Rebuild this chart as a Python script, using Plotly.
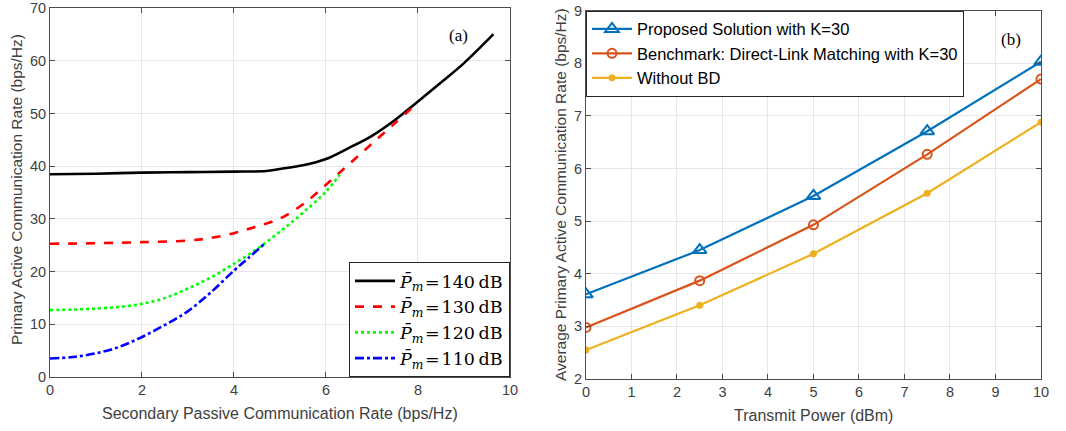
import plotly.graph_objects as go

# ---------- Panel (a) data ----------
black_x = [0, 1, 2, 3, 4, 4.7, 5.0, 5.5, 6.0, 6.5, 7.0, 7.5, 8.0, 8.5, 9.0, 9.64]
black_y = [38.5, 38.6, 38.8, 38.9, 39.0, 39.1, 39.5, 40.2, 41.4, 43.5, 45.8, 48.8, 52.3, 55.9, 59.6, 65.1]
red_x = [0, 1, 2, 3, 3.5, 4, 4.5, 5, 5.5, 6, 6.5, 7, 7.5, 8.0]
red_y = [25.3, 25.4, 25.6, 25.9, 26.4, 27.3, 28.6, 30.1, 32.8, 36.5, 40.4, 44.3, 48.2, 52.1]
green_x = [0, 0.5, 1, 1.5, 2, 2.5, 3, 3.5, 4, 4.5, 5, 5.5, 6, 6.3]
green_y = [12.7, 12.8, 13.0, 13.3, 13.9, 15.0, 16.8, 18.9, 21.5, 24.3, 27.6, 31.2, 35.2, 38.4]
blue_x = [0, 0.5, 1, 1.5, 2, 2.5, 3, 3.5, 4, 4.3, 4.65]
blue_y = [3.5, 3.8, 4.5, 5.7, 7.6, 9.9, 12.5, 16.1, 20.2, 22.5, 25.2]
labels_a = ["140", "130", "120", "110"]

# ---------- Panel (b) data ----------
power = [0, 2.5, 5, 7.5, 10]
proposed = [3.61, 4.45, 5.48, 6.71, 8.03]
benchmark = [2.98, 3.87, 4.93, 6.27, 7.70]
without_bd = [2.55, 3.40, 4.38, 5.53, 6.88]

fig = go.Figure()

def lab(v):
    return "<i>P&#772;</i><sub><i>m</i></sub>&#8202;=&#8202;" + v + "&#8201;dB"

series_a = [
    (black_x, black_y, "#000000", "solid"),
    (red_x, red_y, "#FF0000", "dash"),
    (green_x, green_y, "#00FF00", "dot"),
    (blue_x, blue_y, "#0000FF", "dashdot"),
]
for (xs, ys, c, d), v in zip(series_a, labels_a):
    fig.add_trace(go.Scatter(x=xs, y=ys, mode="lines", line=dict(color=c, dash=d, width=2.6, shape="spline"),
                             name=lab(v), legend="legend", xaxis="x", yaxis="y"))

fig.add_trace(go.Scatter(x=power, y=proposed, mode="lines+markers", name="Proposed Solution with K=30",
                         line=dict(color="#0072BD", width=2.2),
                         marker=dict(symbol="triangle-up-open", size=12, line=dict(width=2, color="#0072BD")),
                         legend="legend2", xaxis="x2", yaxis="y2"))
fig.add_trace(go.Scatter(x=power, y=benchmark, mode="lines+markers", name="Benchmark: Direct-Link Matching with K=30",
                         line=dict(color="#D95319", width=2.2),
                         marker=dict(symbol="circle-open", size=9, line=dict(width=2, color="#D95319")),
                         legend="legend2", xaxis="x2", yaxis="y2"))
fig.add_trace(go.Scatter(x=power, y=without_bd, mode="lines+markers", name="Without BD",
                         line=dict(color="#EDB120", width=2.2),
                         marker=dict(symbol="circle", size=7, color="#EDB120"),
                         legend="legend2", xaxis="x2", yaxis="y2"))

axcol = "#4D4D4D"
gridcol = "#E6E6E6"
tickfont = dict(family="Liberation Sans, Arial", size=14.5, color="#404040")
common = dict(showline=True, linecolor=axcol, linewidth=1, mirror="ticks", ticks="inside", ticklen=5,
              tickcolor=axcol, showgrid=True, gridcolor=gridcol, zeroline=False, tickfont=tickfont,
              automargin=False)

fig.update_layout(
    template="none",
    width=1066, height=431, margin=dict(l=0, r=0, t=0, b=0, pad=0),
    paper_bgcolor="white", plot_bgcolor="white",
    xaxis=dict(domain=[0.0469, 0.4784], range=[0, 10], dtick=2, anchor="y", **common),
    yaxis=dict(domain=[0.1253, 0.9807], range=[0, 70], dtick=10, anchor="x", **common),
    xaxis2=dict(domain=[0.5497, 0.9765], range=[0, 10], dtick=1, anchor="y2", **common),
    yaxis2=dict(domain=[0.1206, 0.9752], range=[2, 9], dtick=1, anchor="x2", **common),
    legend=dict(x=0.4784, y=0.1253, xanchor="right", yanchor="bottom", bgcolor="white",
                bordercolor="#262626", borderwidth=1, tracegroupgap=0, itemwidth=40,
                font=dict(family="DejaVu Serif, Liberation Serif", size=17.5, color="#000000")),
    legend2=dict(x=0.5497, y=0.9752, xanchor="left", yanchor="top", bgcolor="white",
                 bordercolor="#262626", borderwidth=1, itemwidth=40,
                 font=dict(family="Liberation Sans, Arial", size=16.5, color="#000000")),
    showlegend=True,
)

titlefont = dict(family="Liberation Sans, Arial", size=16, color="#404040")
titlefont_y = dict(family="Liberation Sans, Arial", size=15.5, color="#404040")
fig.add_annotation(text="Secondary Passive Communication Rate (bps/Hz)", xref="paper", yref="paper",
                   x=280/1066, y=1-413/431, showarrow=False, font=titlefont, xanchor="center", yanchor="middle")
fig.add_annotation(text="Primary Active Communication Rate (bps/Hz)", xref="paper", yref="paper",
                   x=16/1066, y=1-190/431, showarrow=False, font=titlefont_y, textangle=-90,
                   xanchor="center", yanchor="middle")
fig.add_annotation(text="Transmit Power (dBm)", xref="paper", yref="paper",
                   x=813/1066, y=1-415/431, showarrow=False, font=titlefont, xanchor="center", yanchor="middle")
fig.add_annotation(text="Average Primary Active Communication Rate (bps/Hz)", xref="paper", yref="paper",
                   x=560/1066, y=1-195/431, showarrow=False, font=titlefont_y, textangle=-90,
                   xanchor="center", yanchor="middle")
fig.add_annotation(text="(a)", xref="paper", yref="paper", x=458/1066, y=1-24/431, showarrow=False,
                   font=dict(family="Liberation Serif, Times New Roman", size=17, color="#000000"))
fig.add_annotation(text="(b)", xref="paper", yref="paper", x=1023/1066, y=1-28/431, showarrow=False,
                   font=dict(family="Liberation Serif, Times New Roman", size=17, color="#000000"))

fig.write_html("out.html")
